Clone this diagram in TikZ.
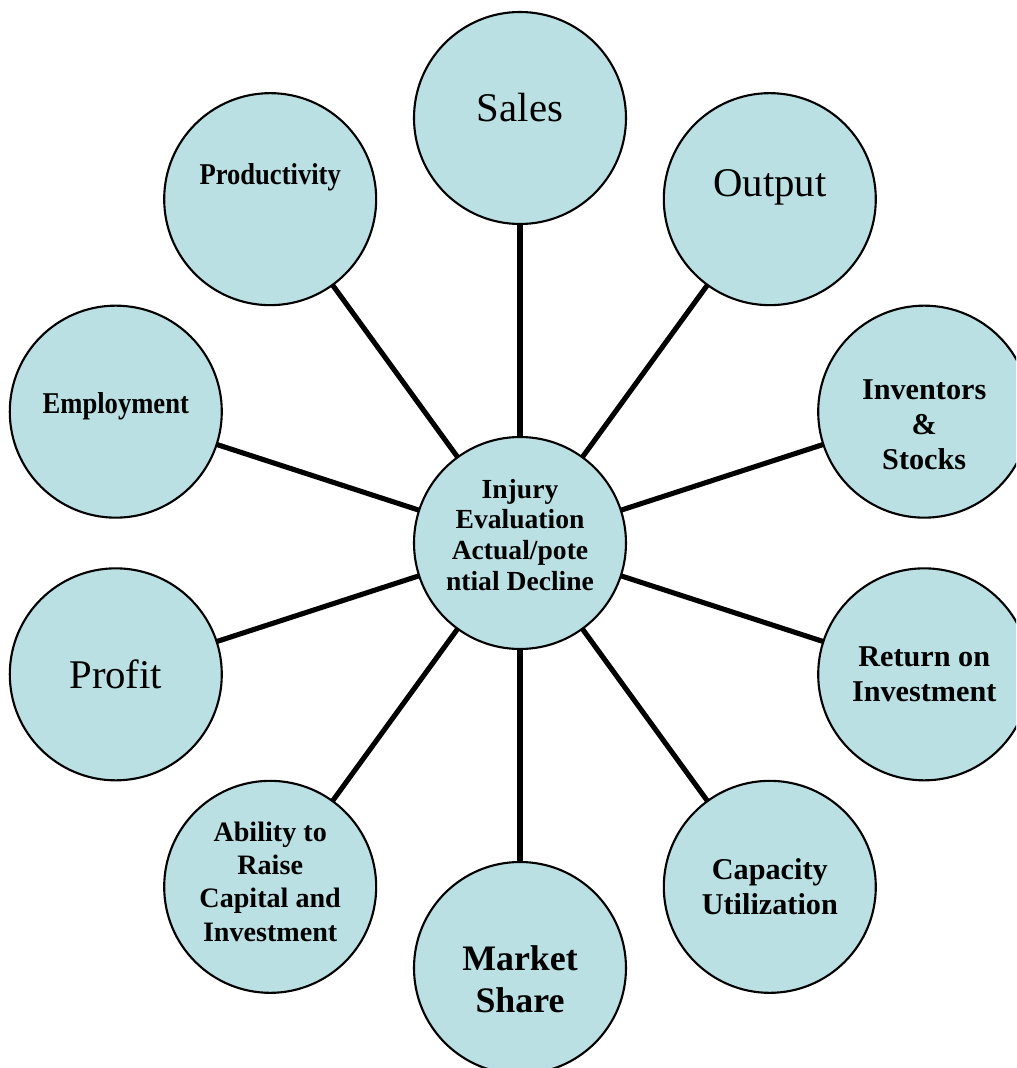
\documentclass[tikz,border=0pt]{standalone}
\usepackage{fontspec}
\setmainfont{Liberation Serif}
\usepackage{graphicx}
\usetikzlibrary{positioning,calc}
\definecolor{bubbleblue}{RGB}{186,224,227}
\newcommand{\narrowtext}[1]{\scalebox{0.88}[1]{#1}}
\tikzset{
    bubble/.style={circle, draw, line width=0.6pt, fill=bubbleblue, minimum size=2.12cm, inner sep=0pt, outer sep=0pt},
    spoke/.style={line width=1.45pt},
    plaintext/.style={align=center, inner sep=0pt, font=\fontsize{11.6}{14}\selectfont},
    boldtext/.style={align=center, inner sep=0pt, font=\fontsize{8.6}{10}\selectfont\bfseries},
    smalltext/.style={align=center, inner sep=0pt, font=\fontsize{8}{9.4}\selectfont\bfseries},
    hubtext/.style={align=center, inner sep=0pt, font=\fontsize{7.85}{8.8}\selectfont\bfseries},
    largetext/.style={align=center, inner sep=0pt, font=\fontsize{10.2}{12}\selectfont\bfseries}
}
\begin{document}
\begin{tikzpicture}
    \useasboundingbox (-5.20,-5.25) rectangle (4.96,5.43);
    \clip (-5.20,-5.25) rectangle (4.96,5.43);
    \fill[white] (-5.20,-5.25) rectangle (4.96,5.43);

    % Hub in the middle
    \node[bubble] (hub) at (0,0) {};
    \node[hubtext] (t-hub) at ([yshift=0.8mm]hub) {Injury\\Evaluation\\Actual/pote\\ntial Decline};

    % Ring of ten factors
    \node[bubble] (sales) at (90:4.25) {};
    \node[bubble] (output) at (54:4.25) {};
    \node[bubble] (stocks) at (18:4.25) {};
    \node[bubble] (roi) at (-18:4.25) {};
    \node[bubble] (capacity) at (-54:4.25) {};
    \node[bubble] (market) at (-90:4.25) {};
    \node[bubble] (capital) at (-126:4.25) {};
    \node[bubble] (profit) at (-162:4.25) {};
    \node[bubble] (employment) at (162:4.25) {};
    \node[bubble] (productivity) at (126:4.25) {};

    % Labels
    \node[plaintext] (t-sales) at ([yshift=1mm]sales) {Sales};
    \node[plaintext] (t-output) at ([yshift=1.2mm]output) {Output};
    \node[boldtext] (t-stocks) at ([yshift=-1.3mm]stocks) {Inventors\\\&\\Stocks};
    \node[boldtext] (t-roi) at (roi) {Return on\\Investment};
    \node[boldtext] (t-capacity) at (capacity) {Capacity\\Utilization};
    \node[largetext] (t-market) at ([yshift=-1.1mm]market) {Market\\Share};
    \node[smalltext] (t-capital) at ([yshift=0.5mm]capital) {Ability to\\Raise\\Capital and\\Investment};
    \node[plaintext] (t-profit) at (profit) {Profit};
    \node[boldtext] (t-employment) at ([yshift=0.5mm]employment) {\narrowtext{Employment}};
    \node[boldtext] (t-productivity) at ([yshift=2.2mm]productivity) {\narrowtext{Productivity}};

    % Spokes
    \draw[spoke] (hub) -- (sales);
    \draw[spoke] (hub) -- (output);
    \draw[spoke] (hub) -- (stocks);
    \draw[spoke] (hub) -- (roi);
    \draw[spoke] (hub) -- (capacity);
    \draw[spoke] (hub) -- (market);
    \draw[spoke] (hub) -- (capital);
    \draw[spoke] (hub) -- (profit);
    \draw[spoke] (hub) -- (employment);
    \draw[spoke] (hub) -- (productivity);
\end{tikzpicture}
\end{document}
